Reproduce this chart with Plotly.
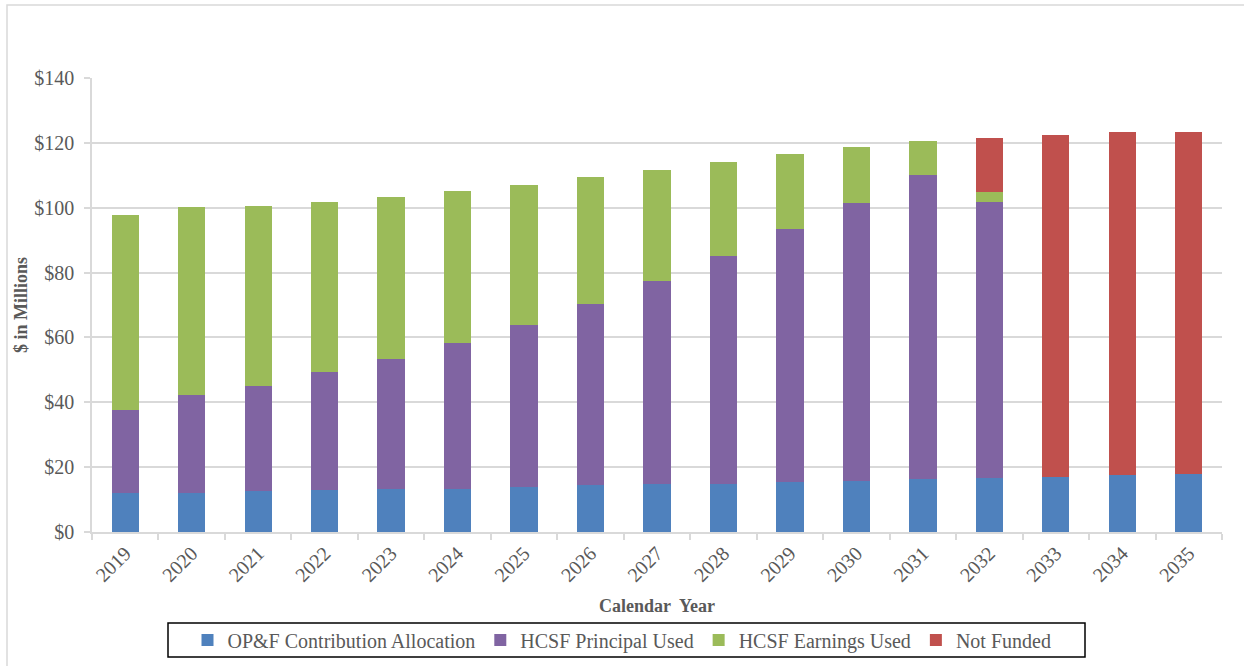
import plotly.graph_objects as go

years = [str(y) for y in range(2019, 2036)]
opf_contribution = [12.0, 12.0, 12.5, 13.0, 13.4, 13.4, 13.9, 14.5, 14.8, 14.8, 15.3, 15.7, 16.2, 16.7, 17.1, 17.6, 18.0]
hcsf_principal = [25.7, 30.3, 32.6, 36.2, 39.8, 45.0, 50.0, 55.8, 62.5, 70.2, 78.0, 85.9, 93.8, 85.2, None, None, None]
hcsf_earnings = [60.1, 57.9, 55.5, 52.7, 50.2, 46.8, 43.2, 39.2, 34.4, 29.0, 23.4, 17.0, 10.6, 2.9, None, None, None]
not_funded = [None] * 13 + [16.6, 105.2, 105.6, 105.2]

y_ticks = [0, 20, 40, 60, 80, 100, 120, 140]

series = [
    ("OP&F Contribution Allocation", opf_contribution, "#4F81BD"),
    ("HCSF Principal Used", hcsf_principal, "#8064A2"),
    ("HCSF Earnings Used", hcsf_earnings, "#9BBB59"),
    ("Not Funded", not_funded, "#C0504D"),
]

FONT = "Liberation Serif"
GRAY = "#595959"
LINE = "#d9d9d9"

fig = go.Figure()
for name, vals, color in series:
    fig.add_trace(go.Bar(x=years, y=vals, name=name,
                         marker=dict(color=color, line=dict(width=0))))

L, R, T, B = 92, 22, 78, 134
W, H = 1244, 666
pw, ph = W - L - R, H - T - B

def px(x):
    return (x - L) / pw

def py(y):
    return (H - B - y) / ph

fig.update_layout(
    width=W, height=H,
    margin=dict(l=L, r=R, t=T, b=B, pad=0, autoexpand=False),
    barmode="stack", bargap=0.59,
    plot_bgcolor="white", paper_bgcolor="white",
    font=dict(family=FONT, color=GRAY, size=20),
    legend=dict(orientation="h", x=px(622), xanchor="center", y=py(640), yanchor="middle",
                font=dict(family=FONT, size=20, color=GRAY), bgcolor="rgba(0,0,0,0)",
                traceorder="normal"),
    showlegend=True,
    shapes=[
        dict(type="rect", xref="paper", yref="paper", x0=px(168), x1=px(1085), y0=py(657), y1=py(623),
             line=dict(color="black", width=1.5), fillcolor="rgba(0,0,0,0)"),
        dict(type="rect", xref="paper", yref="paper", x0=px(7), x1=px(1260), y0=py(690), y1=py(5),
             line=dict(color=LINE, width=1.5), fillcolor="rgba(0,0,0,0)", layer="below"),
    ],
)

fig.update_xaxes(
    type="category", tickangle=-45, tickson="boundaries", automargin=False,
    ticks="outside", ticklen=6, tickcolor=LINE, tickwidth=1.5,
    showline=True, linecolor=LINE, linewidth=1.5, showgrid=False,
    tickfont=dict(family=FONT, size=20, color=GRAY),
    title=dict(text="<b>Calendar  Year</b>", font=dict(family=FONT, size=18, color=GRAY), standoff=14),
)
fig.update_yaxes(
    range=[0, 140], tickvals=y_ticks, ticktext=[f"${v}" for v in y_ticks], automargin=False,
    ticks="outside", ticklen=6, tickcolor=LINE, tickwidth=1.5,
    showline=True, linecolor=LINE, linewidth=1.5,
    showgrid=True, gridcolor=LINE, gridwidth=1.5, zeroline=False,
    tickfont=dict(family=FONT, size=20, color=GRAY), ticklabelstandoff=6,
    title=dict(text="<b>$ in Millions</b>", font=dict(family=FONT, size=18, color=GRAY), standoff=2),
)

fig.write_html("out.html")
